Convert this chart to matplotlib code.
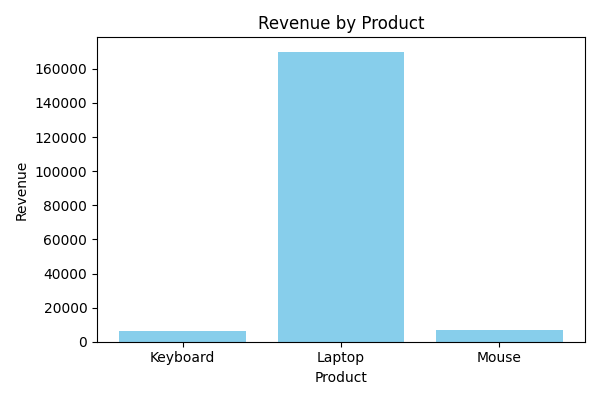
import matplotlib.pyplot as plt

products = ['Keyboard', 'Laptop', 'Mouse']
revenue = [6400, 170000, 7000]

fig, ax = plt.subplots(figsize=(6, 4), dpi=100)
ax.bar(products, revenue, color='skyblue')
ax.set_title('Revenue by Product')
ax.set_xlabel('Product')
ax.set_ylabel('Revenue')
plt.tight_layout()
plt.savefig('out.png')
